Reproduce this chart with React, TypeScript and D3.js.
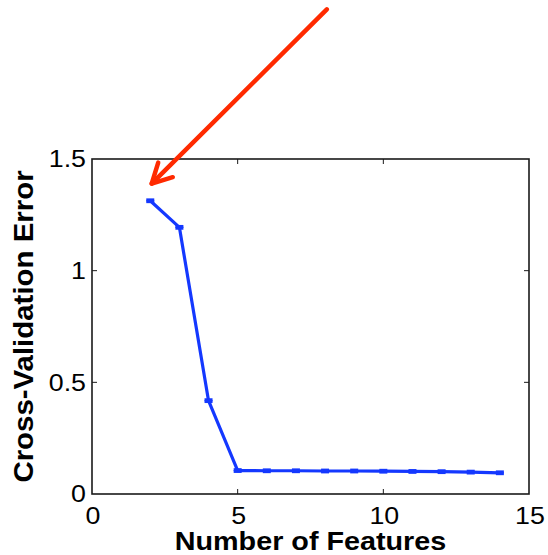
import React from "react";
import * as d3 from "d3";

// Cross-validation error versus number of selected features
const numFeatures = [2, 3, 4, 5, 6, 7, 8, 9, 10, 11, 12, 13, 14];
const cvError = [1.313, 1.194, 0.418, 0.105, 0.104, 0.104, 0.103, 0.103, 0.102, 0.101, 0.1, 0.098, 0.095];
const cvErrorSpread = [0.004, 0.004, 0.004, 0.004, 0.004, 0.004, 0.004, 0.004, 0.004, 0.004, 0.004, 0.004, 0.004];

const xTicks = [0, 5, 10, 15];
const yTicks = [0, 0.5, 1, 1.5];
const xTickLabels = ["0", "5", "10", "15"];
const yTickLabels = ["0", "0.5", "1", "1.5"];

// Annotation arrow (data units): tail then head
const arrowTail = [8.06, 2.17];
const arrowHead = [2.05, 1.39];

const W = 548;
const H = 555;
const margin = { left: 92, right: 19, top: 159, bottom: 61 };

const LINE_BLUE = "#1438ff";
const ARROW_RED = "#ff2a00";
const FONT = "'Liberation Sans', Arial, Helvetica, sans-serif";

export default function App() {
  const x = d3.scaleLinear().domain([0, 15]).range([margin.left, W - margin.right]);
  const y = d3.scaleLinear().domain([0, 1.5]).range([H - margin.bottom, margin.top]);

  const x0 = x.range()[0];
  const x1 = x.range()[1];
  const y0 = y.range()[0];
  const y1 = y.range()[1];

  const pts = numFeatures.map((f, i) => [f, cvError[i]] as [number, number]);
  const line = d3
    .line<[number, number]>()
    .x((d) => x(d[0]))
    .y((d) => y(d[1]));

  const tickLen = 5;
  const capHalf = 4;

  // Arrow geometry
  const tx = x(arrowTail[0]);
  const ty = y(arrowTail[1]);
  const hx = x(arrowHead[0]);
  const hy = y(arrowHead[1]);
  const ang = Math.atan2(hy - ty, hx - tx);
  const barbLen = 22;
  const barbAng = (28 * Math.PI) / 180;
  const b1 = [hx - barbLen * Math.cos(ang - barbAng), hy - barbLen * Math.sin(ang - barbAng)];
  const b2 = [hx - barbLen * Math.cos(ang + barbAng), hy - barbLen * Math.sin(ang + barbAng)];

  const sx = 1.15; // horizontal glyph stretch

  return (
    <svg
      width={W}
      height={H}
      style={{ position: "absolute", left: 0, top: 0, background: "#fff" }}
      fontFamily={FONT}
    >
      <rect x={0} y={0} width={W} height={H} fill="#fff" />

      {/* axes box */}
      <rect x={x0} y={y1} width={x1 - x0} height={y0 - y1} fill="none" stroke="#1a1a1a" strokeWidth={1.6} />

      {/* inward ticks on all four sides */}
      {xTicks.slice(1, -1).map((t) => (
        <g key={`xt${t}`} stroke="#1a1a1a" strokeWidth={1}>
          <line x1={x(t)} x2={x(t)} y1={y0} y2={y0 - tickLen} />
          <line x1={x(t)} x2={x(t)} y1={y1} y2={y1 + tickLen} />
        </g>
      ))}
      {yTicks.slice(1, -1).map((t) => (
        <g key={`yt${t}`} stroke="#1a1a1a" strokeWidth={1}>
          <line x1={x0} x2={x0 + tickLen} y1={y(t)} y2={y(t)} />
          <line x1={x1} x2={x1 - tickLen} y1={y(t)} y2={y(t)} />
        </g>
      ))}

      {/* tick labels */}
      {xTicks.map((t, i) => (
        <text
          key={`xl${t}`}
          transform={`translate(${x(t) + 1},${y0 + 29.5}) scale(${sx},1)`}
          textAnchor="middle"
          fontSize={23.3}
          fill="#000"
        >
          {xTickLabels[i]}
        </text>
      ))}
      {yTicks.map((t, i) => (
        <text
          key={`yl${t}`}
          transform={`translate(${x0 - 6},${y(t) + 8.3}) scale(${sx},1)`}
          textAnchor="end"
          fontSize={23.3}
          fill="#000"
        >
          {yTickLabels[i]}
        </text>
      ))}

      {/* axis titles */}
      <text
        transform={`translate(${(x0 + x1) / 2},${H - 5}) scale(${sx},1)`}
        textAnchor="middle"
        fontSize={25}
        fontWeight="bold"
        fill="#000"
      >
        Number of Features
      </text>
      <text
        transform={`translate(33.3,${(y0 + y1) / 2}) rotate(-90) scale(1.07,1)`}
        textAnchor="middle"
        fontSize={27.5}
        fontWeight="bold"
        fill="#000"
      >
        Cross-Validation Error
      </text>

      {/* error curve */}
      <path d={line(pts) ?? ""} fill="none" stroke={LINE_BLUE} strokeWidth={3.2} strokeLinejoin="round" />
      {pts.map(([f, e], i) => {
        const lo = y(e - cvErrorSpread[i]);
        const hi = y(e + cvErrorSpread[i]);
        return (
          <g key={`eb${f}`} stroke={LINE_BLUE} strokeWidth={3}>
            <line x1={x(f)} x2={x(f)} y1={lo} y2={hi} />
            <line x1={x(f) - capHalf} x2={x(f) + capHalf} y1={lo} y2={lo} />
            <line x1={x(f) - capHalf} x2={x(f) + capHalf} y1={hi} y2={hi} />
          </g>
        );
      })}

      {/* annotation arrow */}
      <g stroke={ARROW_RED} strokeWidth={4.5} fill="none" strokeLinecap="round" strokeLinejoin="round">
        <line x1={tx} y1={ty} x2={hx} y2={hy} />
        <polyline points={`${b1[0]},${b1[1]} ${hx},${hy} ${b2[0]},${b2[1]}`} />
      </g>
    </svg>
  );
}
